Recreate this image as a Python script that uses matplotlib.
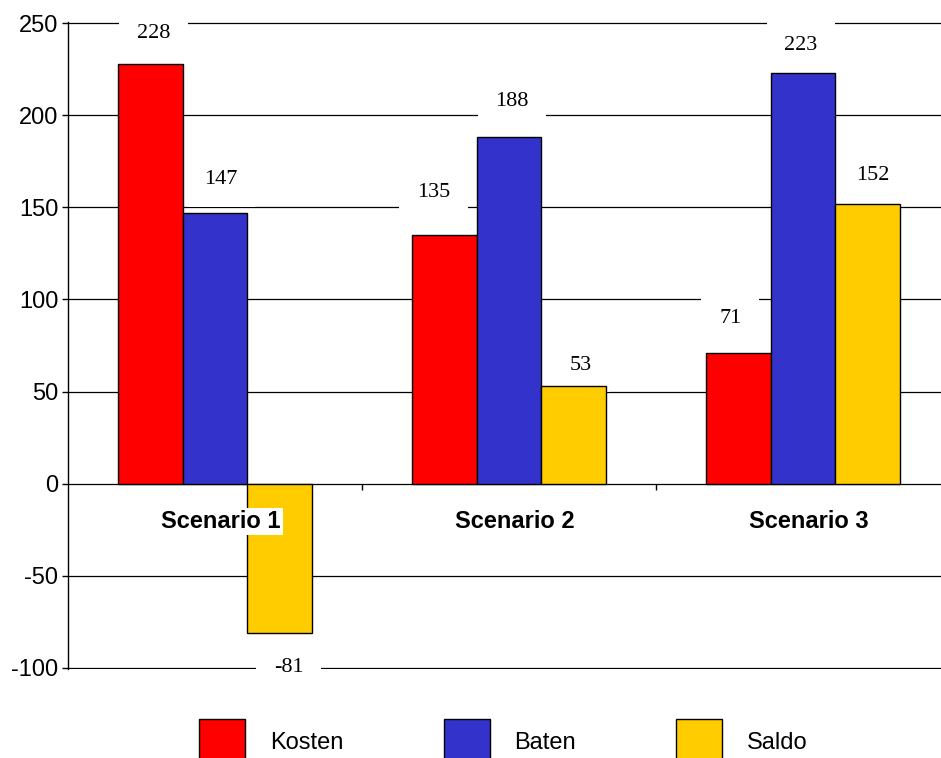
import numpy as np
from matplotlib import pyplot as plt
from matplotlib.patches import Patch

# Scenario data
scenarios = ['Scenario 1', 'Scenario 2', 'Scenario 3']
kosten = [228, 135, 71]
baten = [147, 188, 223]
saldo = [-81, 53, 152]

series = [('Kosten', kosten, '#FF0000'),
          ('Baten', baten, '#3333CC'),
          ('Saldo', saldo, '#FFCC00')]

# label offsets from the bar end, in pixels (dx, dy)
label_offsets = [[(3, 30), (-11, 42), (-8, 34)],
                 [(6, 33), (3, 36), (-2, 27)],
                 [(9, -35), (7, 21), (5, 28)]]

plt.rcParams['font.family'] = ['Liberation Sans', 'DejaVu Sans']
plt.rcParams['axes.unicode_minus'] = False

fig = plt.figure(figsize=(9.41, 7.58), dpi=100)
ax = fig.add_axes([0.0723, 0.1174, 0.9373, 0.8536])

x = np.arange(len(scenarios))
width = 0.22

for i, (name, values, color) in enumerate(series):
    pos = x + (i - 1) * width
    ax.bar(pos, values, width, color=color, edgecolor='black', linewidth=1.0, zorder=2)
    for px, v, off in zip(pos, values, label_offsets[i]):
        ax.annotate(str(v), (px, v), xytext=off, textcoords='offset pixels',
                    ha='center', va='center', fontsize=16, family='Liberation Serif',
                    bbox=dict(boxstyle='square,pad=0.8', fc='white', ec='none'), zorder=1.5)

# Category names under the zero line
for xi, name in zip(x, scenarios):
    ax.annotate(name, (xi, 0), xytext=(6, -38), textcoords='offset pixels',
                ha='center', va='center', fontsize=17, fontweight='bold',
                bbox=dict(boxstyle='square,pad=0.08', fc='white', ec='none'), zorder=4)

# Small separator ticks between categories
ax.vlines([0.5, 1.5], -3.4, 0, color='black', linewidth=1.0, zorder=1)

ax.set_xlim(-0.5, 2.5)
ax.set_ylim(-100.6, 250.6)
ax.set_yticks(np.arange(-100, 251, 50))
ax.set_xticks([])
ax.yaxis.grid(True, color='black', linewidth=0.9)
ax.set_axisbelow(True)
for s in ['top', 'right', 'bottom']:
    ax.spines[s].set_visible(False)
ax.spines['left'].set_linewidth(1.0)
ax.tick_params(axis='y', labelsize=17, length=4, width=1.0, pad=3)

handles = [Patch(facecolor=c, edgecolor='black', linewidth=1.0) for _, _, c in series]
fig.legend(handles, [n for n, _, _ in series], loc='center', ncol=3,
           bbox_to_anchor=(0.535, 1 - 742 / 758), frameon=False, fontsize=17,
           handlelength=1.95, handleheight=2.6, handletextpad=1.05,
           columnspacing=4.25, borderpad=0)

fig.savefig('out.png', dpi=100)
